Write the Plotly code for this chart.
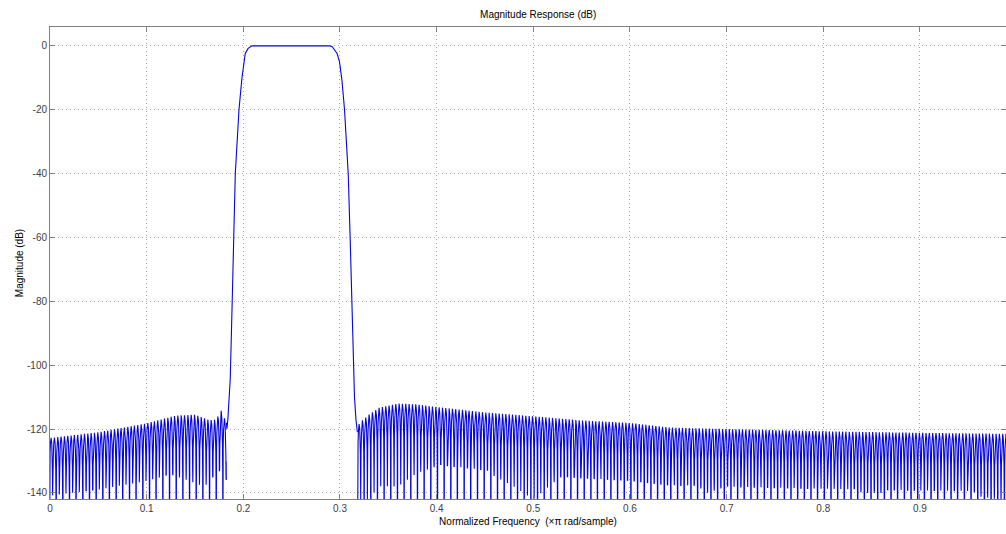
import numpy as np
import plotly.graph_objects as go

# ---- values ----
# Lower stopband: upper envelope of the ripple tops and depth of the shallower nulls (dB)
SB1_F = [0.0, 0.05, 0.10, 0.13, 0.15, 0.165, 0.172, 0.177, 0.1825]
SB1_PEAK = [-122.8, -121.0, -118.2, -115.8, -115.5, -117.2, -117.0, -114.2, -118.0]
SB1_NULL_F = [0.0, 0.02, 0.04, 0.06, 0.08, 0.10, 0.12, 0.14, 0.16, 0.175, 0.1825]
SB1_NULL = [-131, -134.8, -140, -135.8, -132.7, -130.6, -133.7, -135.8, -138, -132.7, -130]

# Upper stopband
SB2_F = [0.318, 0.32, 0.33, 0.34, 0.36, 0.38, 0.40, 0.45, 0.50, 0.55, 0.60, 0.64, 0.66, 0.70, 0.80, 0.90, 0.99]
SB2_PEAK = [-120.5, -118.1, -115.5, -113.4, -112.0, -112.3, -113.1, -114.8, -116.0, -117.3, -118.1,
            -119.5, -119.7, -120.0, -120.7, -121.2, -121.5]
SB2_NULL_F = [0.318, 0.33, 0.34, 0.36, 0.38, 0.40, 0.42, 0.44, 0.46, 0.48, 0.50, 0.52, 0.54, 0.56, 0.58,
              0.60, 0.64, 0.66, 0.68, 0.70, 0.72, 0.74, 0.76, 0.78, 0.80, 0.82, 0.84, 0.86, 0.88, 0.90,
              0.92, 0.94, 0.96, 0.98, 0.99]
SB2_NULL = [-142, -142, -137.9, -138, -133.7, -131.7, -128.5, -130, -134.8, -138, -142, -137, -132.7,
            -133.7, -128.5, -127.5, -132.7, -135.8, -140, -138, -134.8, -130, -128.5, -131.7, -137,
            -136, -140, -140, -132.7, -130, -131, -135, -141, -142, -142]

# Transition bands and passband
PB_F = [0.1825, 0.183, 0.184, 0.1865, 0.1885, 0.190, 0.1917, 0.1955, 0.1986, 0.202, 0.205, 0.209, 0.23,
        0.25, 0.27, 0.289, 0.292, 0.294, 0.297, 0.2995, 0.302, 0.3047, 0.3064, 0.3085, 0.3105, 0.312,
        0.3135, 0.315, 0.3165, 0.318]
PB_DB = [-118, -120, -117, -104, -80, -60, -40, -20, -10, -2.4, -0.8, 0, 0,
         0, 0, 0, -0.3, -1, -2.4, -5, -10.7, -20, -29.4, -40, -60, -80,
         -100, -110, -117, -121]

# Ripple lobe: spacing of nulls and shape of one lobe relative to its top
LOBE_SPACING = 0.00345
LOBE_T = [0.04, 0.1, 0.2, 0.3, 0.5, 0.7, 0.8, 0.9, 0.96]
LOBE_DB = [-18, -10, -4.6, -1.8, 0, -1.8, -4.6, -10, -18]
DEEP_NULL = -170

X_TICKS = [0, 0.1, 0.2, 0.3, 0.4, 0.5, 0.6, 0.7, 0.8, 0.9]
X_TICK_TEXT = ["0", "0.1", "0.2", "0.3", "0.4", "0.5", "0.6", "0.7", "0.8", "0.9"]
Y_TICKS = [0, -20, -40, -60, -80, -100, -120, -140]
Y_TICK_TEXT = ["0", "-20", "-40", "-60", "-80", "-100", "-120", "-140"]


def stopband(f_start, f_end, env_f, env_peak, null_f, null_db):
    xs, ys = [], []
    k = 0
    f0 = f_start
    while f0 < f_end:
        depth = DEEP_NULL if k % 2 == 0 else float(np.interp(f0, null_f, null_db))
        xs.append(f0)
        ys.append(depth)
        for t, d in zip(LOBE_T, LOBE_DB):
            f = f0 + t * LOBE_SPACING
            if f > f_end:
                break
            xs.append(f)
            ys.append(float(np.interp(f, env_f, env_peak)) + d)
        f0 += LOBE_SPACING
        k += 1
    return xs, ys


x1, y1 = stopband(-0.0006, 0.1825, SB1_F, SB1_PEAK, SB1_NULL_F, SB1_NULL)
x2, y2 = stopband(0.318, 0.995, SB2_F, SB2_PEAK, SB2_NULL_F, SB2_NULL)

LINE_COLOR = "rgb(5,5,220)"

fig = go.Figure()
fig.add_trace(go.Scatter(x=x1, y=y1, mode="lines", line=dict(color=LINE_COLOR, width=1.1),
                         hoverinfo="skip", showlegend=False))
fig.add_trace(go.Scatter(x=PB_F, y=PB_DB, mode="lines", line=dict(color=LINE_COLOR, width=1.1),
                         hoverinfo="skip", showlegend=False))
fig.add_trace(go.Scatter(x=x2, y=y2, mode="lines", line=dict(color=LINE_COLOR, width=1.1),
                         hoverinfo="skip", showlegend=False))

axis_common = dict(
    showline=True, linecolor="#808080", linewidth=1, mirror="ticks",
    ticks="inside", ticklen=5, tickcolor="#808080",
    showgrid=True, gridcolor="#a8a8a8", griddash="1px,3px", gridwidth=1,
    zeroline=False, automargin=False,
    tickfont=dict(family="Liberation Sans, Arial, sans-serif", size=10, color="#404040"),
)

fig.update_layout(
    width=1006, height=534,
    margin=dict(l=50, r=0, t=27, b=35),
    paper_bgcolor="white", plot_bgcolor="white",
    font=dict(family="Liberation Sans, Arial, sans-serif", size=10, color="black"),
    title=dict(text="Magnitude Response (dB)", x=0.535, xanchor="center", y=1 - 14 / 534, yanchor="middle",
               font=dict(size=10, color="black")),
    xaxis=dict(range=[0, 0.989], tickvals=X_TICKS, ticktext=X_TICK_TEXT,
               title=dict(text="Normalized Frequency  (×π rad/sample)", standoff=4,
                          font=dict(size=10, color="black")),
               **axis_common),
    yaxis=dict(range=[-141.9, 5.9], tickvals=Y_TICKS, ticktext=Y_TICK_TEXT,
               title=dict(text="Magnitude (dB)", standoff=1, font=dict(size=10, color="black")),
               **axis_common),
)

# remove the default page margin so the figure fills the 1006x534 window exactly
fig.write_html("out.html",
               config={"displayModeBar": False},
               post_script="document.body.style.margin='0';document.body.style.overflow='hidden';")
